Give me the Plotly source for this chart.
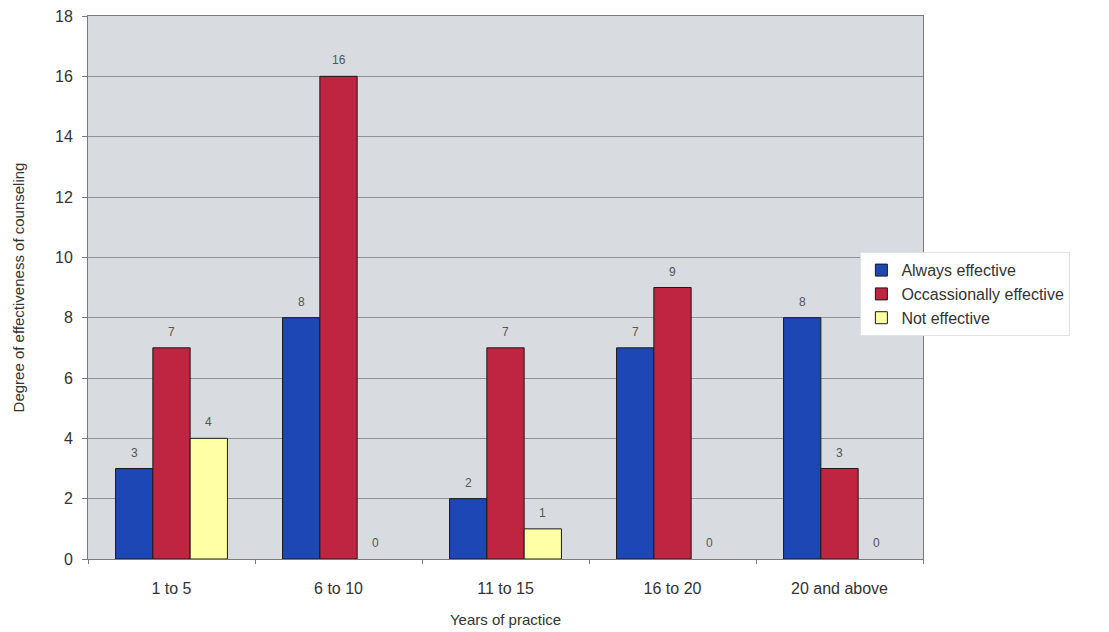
import plotly.graph_objects as go

categories = ["1 to 5", "6 to 10", "11 to 15", "16 to 20", "20 and above"]
always_effective = [3, 8, 2, 7, 8]
occasionally_effective = [7, 16, 7, 9, 3]
not_effective = [4, 0, 1, 0, 0]

series = [
    ("Always effective", always_effective, "#1d47b4"),
    ("Occassionally effective", occasionally_effective, "#bf2440"),
    ("Not effective", not_effective, "#ffffa6"),
]

FONT = "Liberation Sans, Arial, sans-serif"
W, H = 1109, 632
MARGIN = dict(l=88, r=186, t=16, b=73)
BARGAP = 0.33

fig = go.Figure()
for name, values, color in series:
    fig.add_trace(go.Bar(
        x=categories,
        y=values,
        name=name,
        marker=dict(
            color=color,
            # no outline on empty bars so nothing is drawn on the baseline
            line=dict(color="#1a1a1a", width=[1 if v else 0 for v in values]),
        ),
    ))

# value labels sit a little above each bar, offset horizontally to their bar slot
plot_w = W - MARGIN["l"] - MARGIN["r"]
slot_w = plot_w / len(categories) * (1 - BARGAP) / len(series)
for i, (name, values, color) in enumerate(series):
    dx = (i - (len(series) - 1) / 2) * slot_w
    for cat, v in zip(categories, values):
        fig.add_annotation(
            x=cat, y=v, text=str(v), showarrow=False,
            xshift=dx, yshift=16, yanchor="middle",
            font=dict(size=12, color="#555555", family=FONT),
        )

fig.update_layout(
    width=W,
    height=H,
    barmode="group",
    bargap=BARGAP,
    bargroupgap=0,
    paper_bgcolor="white",
    plot_bgcolor="#d8dce0",
    margin=dict(MARGIN, autoexpand=False),
    font=dict(family=FONT, size=16, color="#333333"),
    showlegend=True,
    legend=dict(
        x=0.925, y=0.565, xanchor="left", yanchor="top",
        bgcolor="white", bordercolor="#e2e2e2", borderwidth=1,
        font=dict(size=16, color="#333333"),
        itemwidth=30, tracegroupgap=0,
    ),
    xaxis=dict(
        title=dict(text="Years of practice", font=dict(size=15), standoff=18),
        automargin=False,
        showline=True, linecolor="#7a7a7a", linewidth=1, mirror=True,
        ticks="outside", tickson="boundaries", ticklen=4, tickcolor="#7a7a7a",
        ticklabelstandoff=15,
        tickfont=dict(size=16),
        showgrid=False,
    ),
    yaxis=dict(
        title=dict(text="Degree of effectiveness of counseling", font=dict(size=15), standoff=26),
        automargin=False,
        range=[0, 18], dtick=2,
        showline=True, linecolor="#7a7a7a", linewidth=1, mirror=True,
        ticks="outside", ticklen=5, tickcolor="#7a7a7a",
        ticklabelstandoff=6,
        gridcolor="#8c939b", gridwidth=1,
        tickfont=dict(size=16),
        zeroline=False,
    ),
)

fig.write_html("out.html")
